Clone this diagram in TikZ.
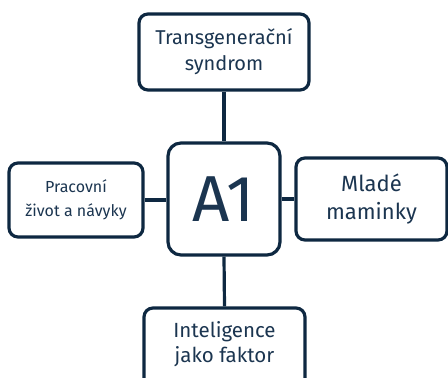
\documentclass[tikz,border=0pt]{standalone}
\usepackage{fontspec}
\setmainfont{Fira Sans}
\definecolor{navy}{HTML}{0E2841}
\definecolor{txt}{HTML}{1B3550}
\begin{document}
\begin{tikzpicture}[x=1pt,y=1pt,
  box/.style={draw=navy, line width=3.2pt, rounded corners=9pt, fill=white, align=center, text=txt, inner sep=0pt},
  lbl/.style={align=center, text=txt, inner sep=0pt},
  link/.style={draw=navy, line width=3.2pt}]
\useasboundingbox (0,0) rectangle (448,378);
\clip (0,0) rectangle (448,378);
\node[box, minimum width=170pt, minimum height=76pt, font=\fontsize{20}{26}\selectfont] (top) at (224,326) {Transgenerační\\syndrom};
\node[box, minimum width=112pt, minimum height=112pt, rounded corners=13pt, font=\fontsize{65}{65}\selectfont] (a1) at (224,179) {A1};
\node[box, minimum width=134pt, minimum height=74pt, font=\fontsize{16}{24}\selectfont] (left) at (76,178) {Pracovní\\život a návyky};
\node[box, minimum width=151pt, minimum height=82pt, font=\fontsize{22}{28}\selectfont] (right) at (371.5,179) {Mladé\\maminky};
\node[box, minimum width=161pt, minimum height=80pt] (bot) at (224.5,30) {};
\node[lbl, font=\fontsize{20.5}{25}\selectfont, anchor=base] (bottxt) at (224.5,40) {Inteligence};
\node[lbl, font=\fontsize{20.5}{25}\selectfont, anchor=base] (bottxt2) at (224.5,15) {jako faktor};
\draw[link] (top.south) -- (a1.north);
\draw[link] (a1.south) -- (bot.north);
\draw[link] (left.east) -- (left.east -| a1.west);
\draw[link] (a1.east) -- (a1.east -| right.west);
\end{tikzpicture}
\end{document}
